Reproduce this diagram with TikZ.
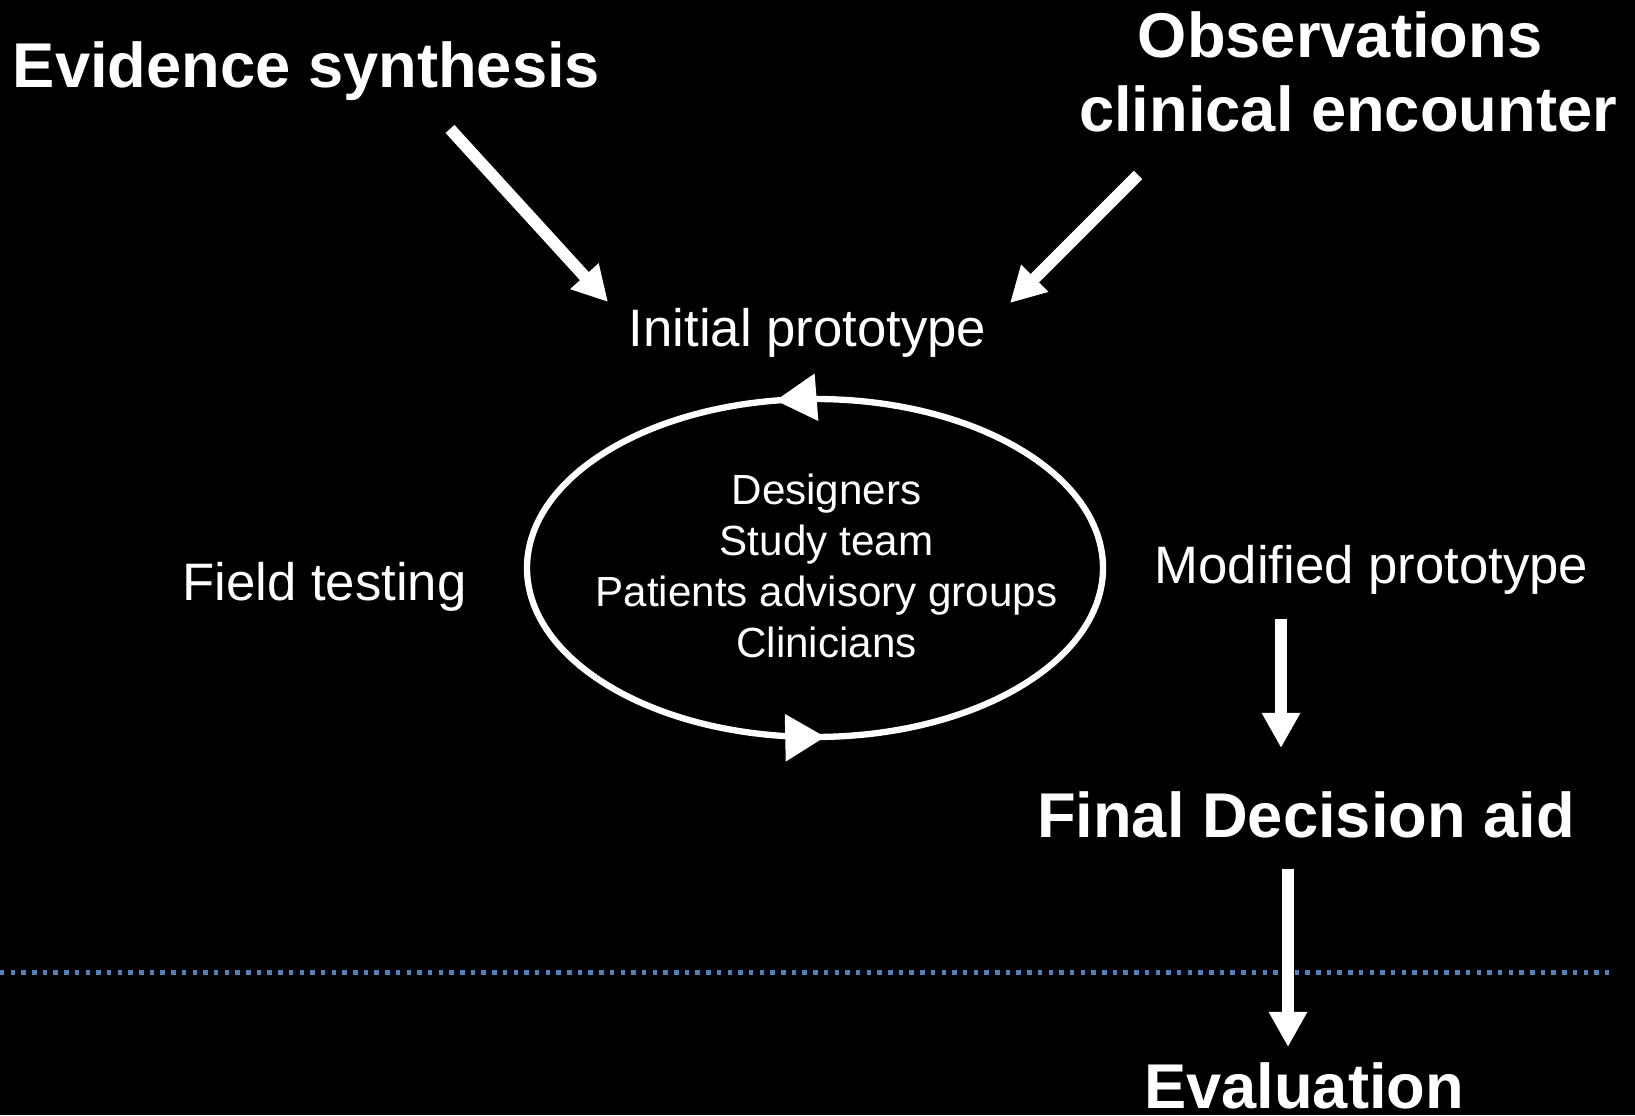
\documentclass[tikz,border=0pt]{standalone}
\usepackage{fontspec}
\setmainfont{Liberation Sans}
\usetikzlibrary{arrows.meta,decorations.markings}

\definecolor{dotblue}{RGB}{79,129,189}

\begin{document}
\begin{tikzpicture}[
    heading/.style={white, anchor=base, inner sep=0pt, font=\fontsize{18}{22}\selectfont\bfseries},
    stage/.style={white, anchor=base, inner sep=0pt, font=\fontsize{15}{18}\selectfont},
    member/.style={white, anchor=base, inner sep=0pt, font=\fontsize{12}{14}\selectfont},
    bigarrow/.style={white, line width=3.4pt, -{Triangle[length=0.35cm, width=0.36cm]}}
]

% Фон
\fill[black] (0,0) rectangle (16.35,11.15);
\useasboundingbox (0,0) rectangle (16.35,11.15);

% Источники
\node[heading] (evid) at (3.065,10.27) {Evidence synthesis};
\node[heading] (obs1) at (13.40,10.57) {Observations};
\node[heading] (obs2) at (13.48,9.83) {clinical encounter};

% Прототипы
\node[stage] (init) at (8.075,7.68) {Initial prototype};
\node[stage] (field) at (3.245,5.14) {Field testing};
\node[stage] (modif) at (13.715,5.31) {Modified prototype};

% Цикл
\coordinate (loop) at (8.15,5.47);
\draw[white, line width=1.8pt, postaction={decorate},
    decoration={markings,
        mark=at position 0.277 with {\arrow{Triangle[length=0.41cm, width=0.46cm]}},
        mark=at position 0.757 with {\arrow{Triangle[length=0.40cm, width=0.46cm]}}}]
    (loop) ellipse (2.88 and 1.69);

\foreach \who [count=\i] in {Designers, Study team, Patients advisory groups, Clinicians}
    \node[member] (team\i) at (8.265,{6.10-0.507*(\i-1)}) {\who};

% Итог
\node[heading] (final) at (13.06,2.77) {Final Decision aid};
\node[heading] (eval) at (13.04,0.065) {Evaluation};

% Граница
\coordinate (lineL) at (0,1.42);
\coordinate (lineR) at (16.14,1.42);
\draw[dotblue, line width=0.05cm, dash pattern=on 0.045cm off 0.062cm] (lineL) -- (lineR);

% Стрелки
\coordinate (evidTail) at (4.50,9.86);
\coordinate (evidTip) at (6.08,8.13);
\coordinate (obsTail) at (11.38,9.40);
\coordinate (obsTip) at (10.10,8.12);
\coordinate (modTail) at (12.81,4.96);
\coordinate (modTip) at (12.81,3.67);
\coordinate (finTail) at (12.88,2.46);
\coordinate (finTip) at (12.88,0.68);

\draw[bigarrow] (evidTail) -- (evidTip);
\draw[bigarrow] (obsTail) -- (obsTip);
\draw[bigarrow] (modTail) -- (modTip);
\draw[bigarrow] (finTail) -- (finTip);

\end{tikzpicture}
\end{document}
